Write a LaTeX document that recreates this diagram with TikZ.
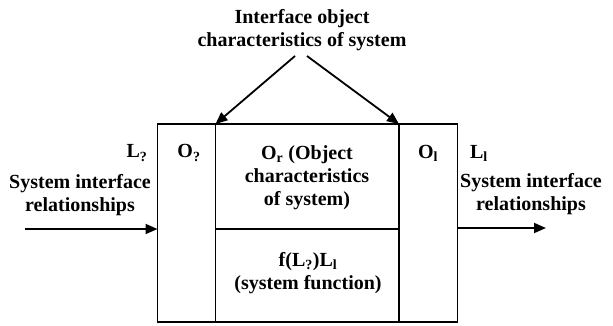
\documentclass[tikz,border=0pt]{standalone}
\usepackage{fontspec}
\setmainfont{Liberation Serif}
\usetikzlibrary{arrows.meta}
\tikzset{
  lbl/.style={inner sep=0pt, font=\fontsize{20bp}{23bp}\selectfont\bfseries, align=center},
  ln/.style={line width=1.8bp},
  arr/.style={line width=1.8bp, -{Triangle[length=12bp,width=10bp]}}
}
\begin{document}
\begin{tikzpicture}[x=1bp,y=-1bp]
\useasboundingbox (0,0) rectangle (613,325);
% box
\coordinate (TL) at (157.5,124);
\coordinate (BR) at (457.5,322);
\coordinate (ILt) at (215.5,124);
\coordinate (ILb) at (215.5,322);
\coordinate (IRt) at (399,124);
\coordinate (IRb) at (399,322);
\coordinate (Dl) at (215.5,229);
\coordinate (Dr) at (399,229);
\draw[ln] (TL) rectangle (BR);
\draw[ln] (ILt) -- (ILb);
\draw[ln] (IRt) -- (IRb);
\draw[ln] (Dl) -- (Dr);
% top label
\node[lbl] (top) at (302,30) {Interface object\\characteristics of system};
\coordinate (s1) at (295,56);
\coordinate (s2) at (307,56);
\draw[arr] (s1) -- (ILt);
\draw[arr] (s2) -- (IRt);
% left side
\node[lbl] (Lleft) at (137,153) {L\textsubscript{?}};
\node[lbl] (Oleft) at (189,153) {O\textsubscript{?}};
\node[lbl] (sysL) at (80,195) {System interface\\relationships};
\coordinate (inL) at (25,229);
\coordinate (inR) at (157.5,229);
\draw[arr] (inL) -- (inR);
% right side
\node[lbl] (Oright) at (428,153) {O\textsubscript{l}};
\node[lbl] (Lright) at (479,153) {L\textsubscript{l}};
\node[lbl] (sysR) at (531,194) {System interface\\relationships};
\coordinate (outL) at (457.5,228);
\coordinate (outR) at (546,228);
\draw[arr] (outL) -- (outR);
% middle
\node[lbl] (obj) at (307,178) {O\textsubscript{r} (Object\\characteristics\\of system)};
\node[lbl] (fn) at (308,273) {f(L\textsubscript{?})L\textsubscript{l}\\(system function)};
\end{tikzpicture}
\end{document}
